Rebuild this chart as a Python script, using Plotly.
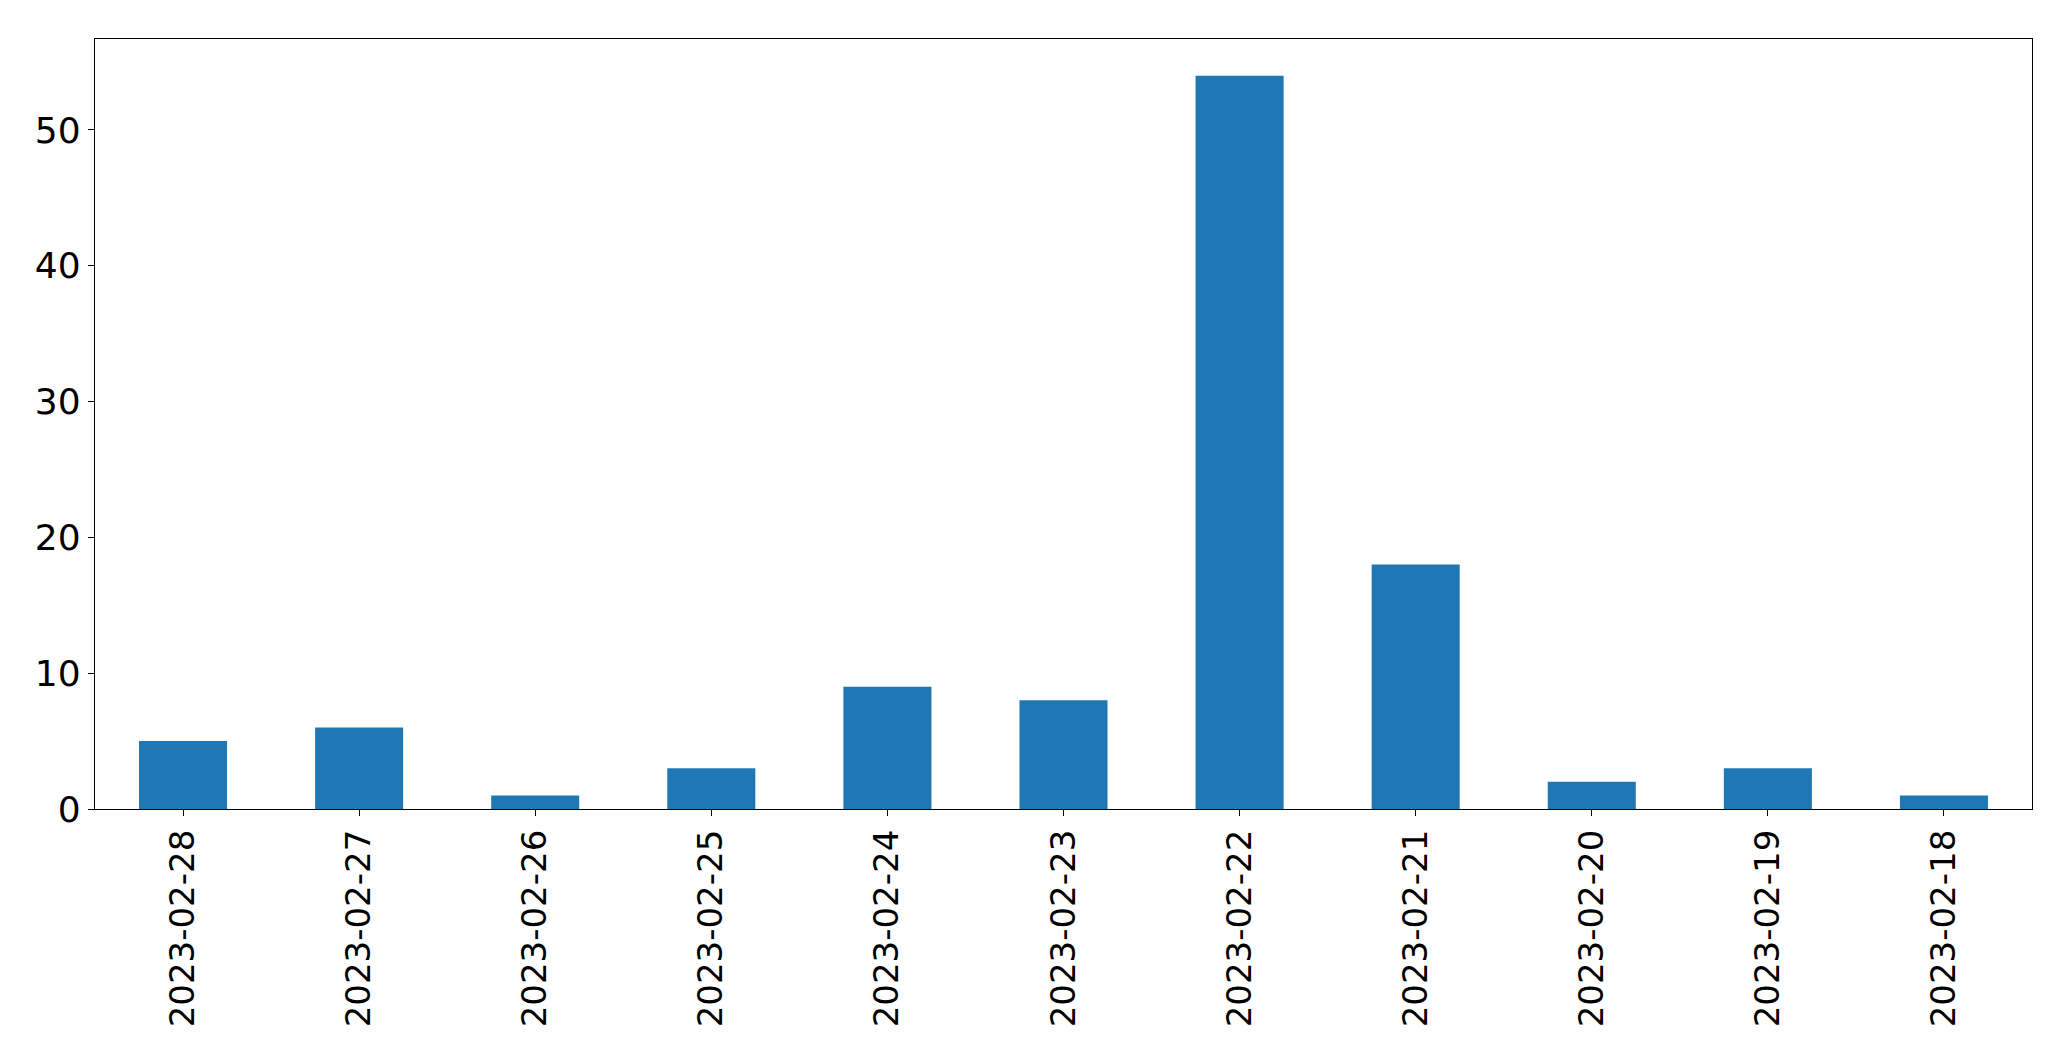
import plotly.graph_objects as go

dates = ["2023-02-28", "2023-02-27", "2023-02-26", "2023-02-25", "2023-02-24",
         "2023-02-23", "2023-02-22", "2023-02-21", "2023-02-20", "2023-02-19", "2023-02-18"]
counts = [5, 6, 1, 3, 9, 8, 54, 18, 2, 3, 1]

fig = go.Figure()
fig.add_trace(go.Bar(x=dates, y=counts, width=0.5, marker=dict(color="#1f77b4", line=dict(width=0))))

axis_common = dict(showline=True, mirror=True, linecolor="black", linewidth=1.3,
                   ticks="outside", tickcolor="black", ticklen=6, tickwidth=1.3,
                   showgrid=False, zeroline=False)

# page body has an 8px default margin, so the figure is offset by 8px
fig.update_layout(
    width=2063, height=1053,
    margin=dict(l=86.5, r=39.3, t=31, b=252, pad=0),
    plot_bgcolor="white", paper_bgcolor="white",
    showlegend=False,
    xaxis=dict(type="category", range=[-0.5, 10.5], tickangle=-90,
               tickfont=dict(family="DejaVu Sans", size=34, color="black"), **axis_common),
    yaxis=dict(range=[0, 56.7], dtick=10,
               tickfont=dict(family="DejaVu Sans", size=36, color="black"), **axis_common),
)

fig.write_html("out.html", config={"displayModeBar": False})
